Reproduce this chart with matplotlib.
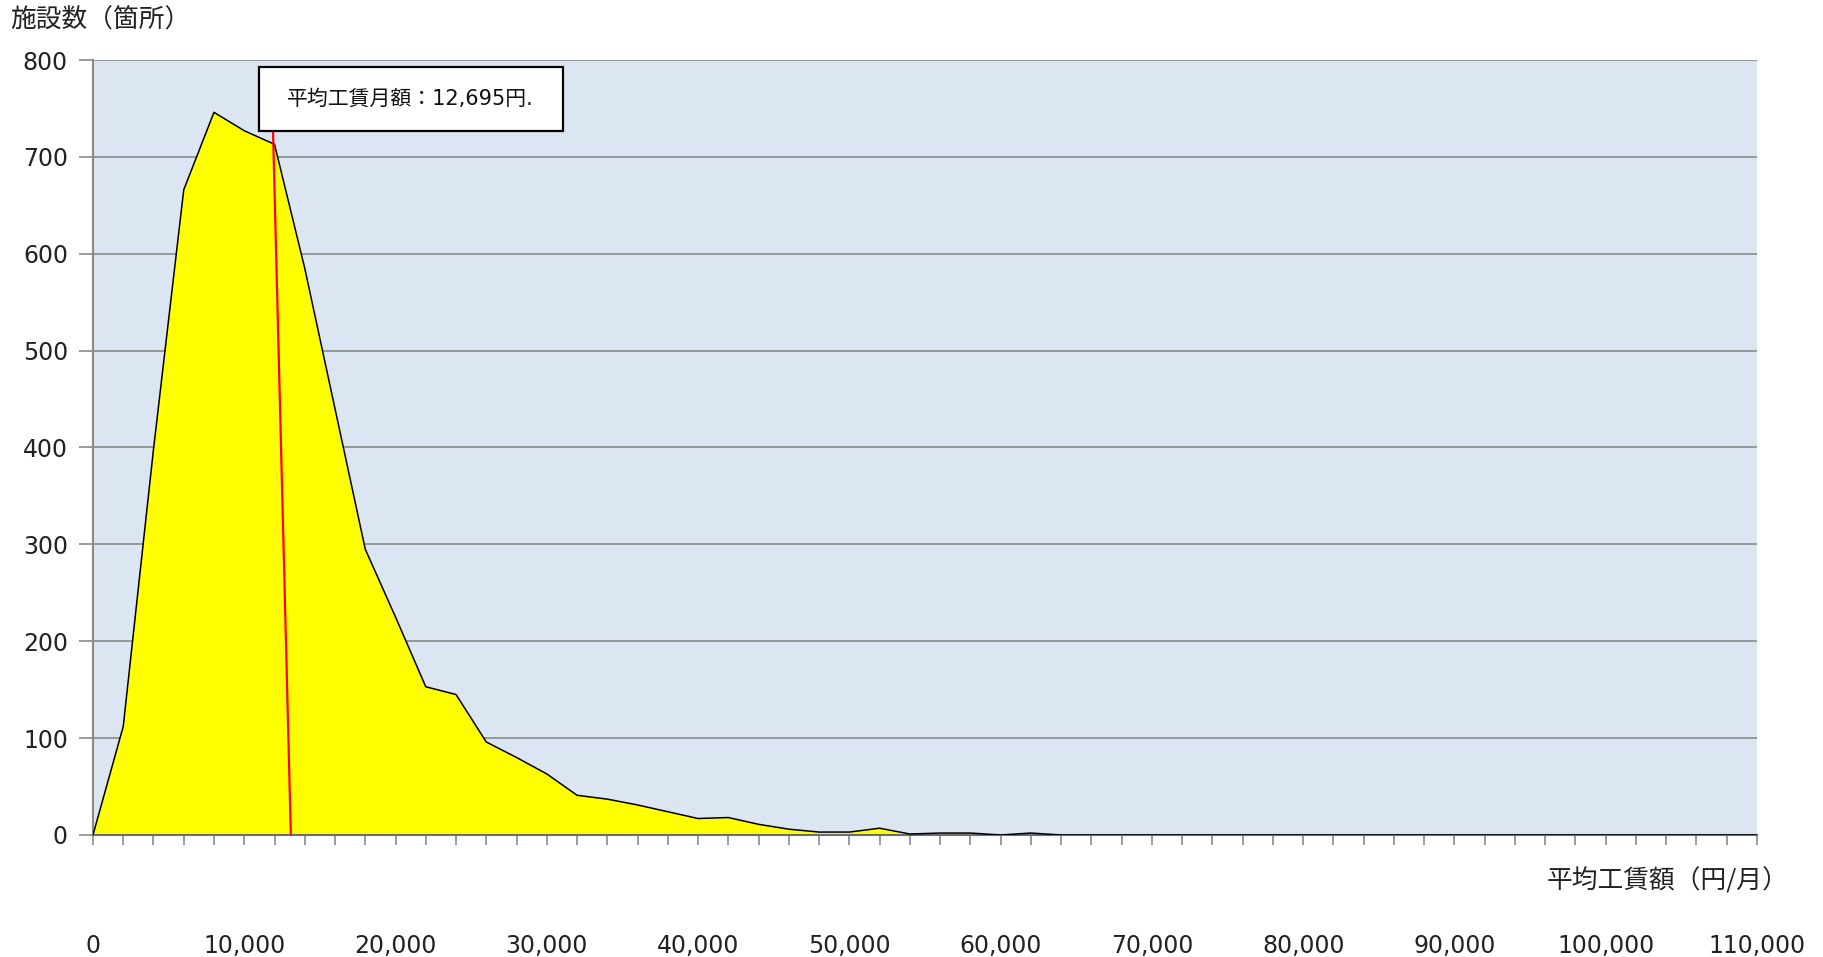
import numpy as np
import matplotlib.pyplot as plt
from matplotlib.patches import Rectangle

plt.rcParams['font.family'] = ['Noto Sans CJK JP', 'DejaVu Sans']
num_font = ['DejaVu Sans', 'Noto Sans CJK JP']

# facilities per 2,000 yen band of average monthly wage
wage_step = 2000
facility_counts = [0, 112, 398, 666, 746, 727, 713, 585, 440, 295,
                   225, 153, 145, 96, 80, 63, 41, 37, 31, 24,
                   17, 18, 11, 6, 3, 3, 7, 1, 2, 2,
                   0, 2, 0, 0, 0, 0, 0, 0, 0, 0,
                   0, 0, 0, 0, 0, 0, 0, 0, 0, 0,
                   0, 0, 0, 0, 0, 0]
wage = np.arange(len(facility_counts)) * wage_step

# hand drawn marker for the mean (slightly slanted in the source)
mean_label = '平均工賃月額：12,695円.'
mean_line_x = [11900, 13080]
mean_line_y = [728, 0]

y_ticks = list(range(0, 801, 100))
x_label_ticks = list(range(0, 110001, 10000))

fig = plt.figure(figsize=(18.23, 9.57), dpi=100)
ax = fig.add_axes([0.051, 0.1275, 0.9128, 0.8098])
ax.set_facecolor('#dce6f2')

ax.fill_between(wage, facility_counts, color='#ffff00', lw=0, zorder=2)
ax.plot(wage, facility_counts, color='black', lw=1.1, zorder=3)
ax.plot(mean_line_x, mean_line_y, color='red', lw=1.6, zorder=4)

# callout box
ax.add_patch(Rectangle((0.0998, 0.908), 0.1827, 0.083, transform=ax.transAxes,
                       fc='white', ec='black', lw=1.6, zorder=5, clip_on=False))
ax.text(0.191, 0.950, mean_label, transform=ax.transAxes, fontsize=15, family=num_font,
        ha='center', va='center', color='#111111', zorder=6)

ax.set_xlim(0, 110000)
ax.set_ylim(0, 800)
ax.set_yticks(y_ticks)
ax.set_xticks(x_label_ticks)
ax.set_xticklabels([f'{v:,}' for v in x_label_ticks], family=num_font)
ax.set_yticklabels([str(v) for v in y_ticks], family=num_font)
ax.set_xticks(wage, minor=True)

ax.yaxis.grid(True, color='#8a8a8a', lw=1.2)
ax.set_axisbelow(True)
for s in ['top', 'right']:
    ax.spines[s].set_visible(False)
ax.spines['left'].set_color('#8a8a8a')
ax.spines['left'].set_linewidth(1.5)
ax.spines['bottom'].set_color('#6e6e6e')
ax.spines['bottom'].set_linewidth(1.5)

ax.tick_params(axis='x', which='both', direction='out', length=7, width=1.2, color='#8a8a8a')
ax.tick_params(axis='x', which='major', pad=64, labelsize=17, labelcolor='#222222')
ax.tick_params(axis='y', direction='out', length=10, width=1.2, color='#8a8a8a',
               pad=8, labelsize=17, labelcolor='#222222')

fig.text(0.0055, 0.979, '施設数（箇所）', fontsize=18.5, va='center', color='#222222')
fig.text(0.9145, 0.0794, '平均工賃額（円/月）', fontsize=18.5, ha='center', va='center', color='#222222')

fig.savefig('out.png', dpi=100)
